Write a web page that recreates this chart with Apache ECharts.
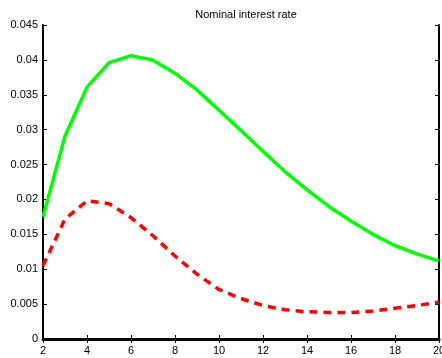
<!DOCTYPE html>
<html><head><meta charset="utf-8">
<script src="https://cdn.jsdelivr.net/npm/echarts@6/dist/echarts.min.js"></script>
<style>html,body{margin:0;padding:0;background:#fff;overflow:hidden}#c{width:442px;height:358px}</style>
</head><body><div id="c"></div>
<script>
const periods = [2,3,4,5,6,7,8,9,10,11,12,13,14,15,16,17,18,19,20];
const greenSeries = [0.0175,0.0291,0.0361,0.0396,0.0406,0.0400,0.0381,0.0357,0.0328,0.0299,0.0269,0.0240,0.0214,0.0190,0.0169,0.0150,0.0134,0.0122,0.0112];
const redSeries = [0.0105,0.0172,0.0198,0.0194,0.0174,0.0148,0.0119,0.0093,0.0071,0.0058,0.0048,0.0042,0.0039,0.0038,0.0038,0.0040,0.0044,0.0048,0.0053];
const title = 'Nominal interest rate';

const font = 'Liberation Sans, Arial, sans-serif';
const chart = echarts.init(document.getElementById('c'), null, {renderer:'canvas'});
const pair = arr => periods.map((p,i)=>[p,arr[i]]);
const baseX = {type:'value', min:2, max:20, interval:2, splitLine:{show:false},
  axisTick:{inside:true,length:4,lineStyle:{color:'#000'}}, axisLine:{lineStyle:{color:'#000',width:1}}};
const baseY = {type:'value', min:0, max:0.045, interval:0.005, splitLine:{show:false},
  axisTick:{inside:true,length:4,lineStyle:{color:'#000'}}, axisLine:{lineStyle:{color:'#000',width:1}}};
chart.setOption({
  animation:false,
  title:{text:title, left:241, textAlign:'center', top:4, textStyle:{fontFamily:font,fontSize:11,fontWeight:'normal',color:'#000'}},
  grid:{left:43,right:3,top:25,bottom:19,containLabel:false,outerBoundsMode:'none'},
  xAxis:[
    Object.assign({}, baseX, {position:'bottom', axisLine:{lineStyle:{color:'#000',width:3}},
      axisLabel:{fontFamily:font,fontSize:11,color:'#000',margin:6,showMaxLabel:true}}),
    Object.assign({}, baseX, {position:'top', axisLabel:{show:false}})
  ],
  yAxis:[
    Object.assign({}, baseY, {position:'left', axisLine:{lineStyle:{color:'#000',width:2}},
      axisLabel:{fontFamily:font,fontSize:11,color:'#000',margin:5,formatter:v=>String(+v.toFixed(3))}}),
    Object.assign({}, baseY, {position:'right', axisLabel:{show:false}, axisLine:{lineStyle:{color:'#000',width:2}}})
  ],
  series:[
    {type:'line', data:pair(greenSeries), symbol:'none', lineStyle:{color:'#00ff00',width:3.5}, z:3},
    {type:'line', data:pair(redSeries), symbol:'none', lineStyle:{color:'#ff0000',width:3.5,type:[8,6]}, z:4}
  ]
});
</script></body></html>
